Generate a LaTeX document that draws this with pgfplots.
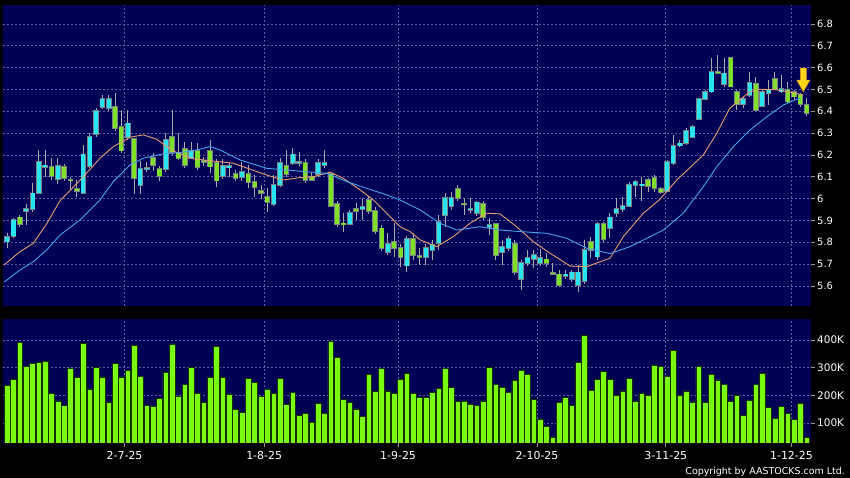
\documentclass[border=0pt]{standalone}
\usepackage{pgfplots}
\pgfplotsset{compat=1.18}
\usepackage{pgfplotstable}
\usepackage{fontspec}
\setmainfont{DejaVu Sans}
\definecolor{navybg}{RGB}{0,0,85}
\definecolor{gridc}{RGB}{95,95,165}
\definecolor{upc}{RGB}{40,228,240}
\definecolor{dnc}{RGB}{126,224,40}
\definecolor{edgec}{RGB}{125,130,130}
\definecolor{wickc}{RGB}{170,170,170}
\definecolor{volc}{RGB}{122,250,16}
\definecolor{voledge}{RGB}{20,50,0}
\definecolor{maone}{RGB}{232,160,112}
\definecolor{matwo}{RGB}{70,165,235}
\definecolor{arrowc}{RGB}{255,214,30}
\definecolor{arrowe}{RGB}{230,150,20}
\definecolor{tickc}{RGB}{150,150,150}

\pgfdeclareplotmark{dnarrow}{%
  \pgfpathmoveto{\pgfpoint{0bp}{0bp}}%
  \pgfpathlineto{\pgfpoint{6.5bp}{11.5bp}}%
  \pgfpathlineto{\pgfpoint{3bp}{11.5bp}}%
  \pgfpathlineto{\pgfpoint{3bp}{23.5bp}}%
  \pgfpathlineto{\pgfpoint{-3bp}{23.5bp}}%
  \pgfpathlineto{\pgfpoint{-3bp}{11.5bp}}%
  \pgfpathlineto{\pgfpoint{-6.5bp}{11.5bp}}%
  \pgfpathclose
  \pgfusepathqfillstroke}

\pgfplotstableread{
k o h l c
1 5.803 5.841 5.773 5.826
2 5.830 5.910 5.821 5.902
3 5.914 5.925 5.870 5.882
4 5.943 5.974 5.879 5.953
5 5.953 6.070 5.940 6.024
6 6.024 6.223 6.020 6.169
7 6.144 6.223 6.100 6.152
8 6.144 6.185 6.085 6.104
9 6.089 6.185 6.068 6.150
10 6.144 6.160 6.080 6.093
11 6.087 6.100 6.040 6.084
12 6.045 6.085 6.009 6.036
13 6.024 6.246 6.020 6.203
14 6.150 6.299 6.140 6.281
15 6.296 6.414 6.284 6.403
16 6.421 6.475 6.410 6.455
17 6.414 6.475 6.400 6.455
18 6.421 6.482 6.310 6.322
19 6.330 6.406 6.208 6.220
20 6.281 6.406 6.269 6.345
21 6.272 6.280 6.020 6.093
22 6.063 6.170 6.020 6.135
23 6.137 6.170 6.120 6.140
24 6.185 6.208 6.126 6.154
25 6.135 6.150 6.080 6.104
26 6.135 6.300 6.120 6.269
27 6.281 6.406 6.200 6.215
28 6.211 6.299 6.177 6.185
29 6.227 6.260 6.140 6.154
30 6.185 6.260 6.180 6.220
31 6.220 6.253 6.130 6.144
32 6.172 6.190 6.150 6.170
33 6.220 6.269 6.119 6.147
34 6.162 6.180 6.055 6.083
35 6.102 6.180 6.090 6.150
36 6.144 6.169 6.100 6.150
37 6.112 6.131 6.080 6.093
38 6.097 6.169 6.080 6.121
39 6.112 6.154 6.047 6.075
40 6.075 6.108 6.009 6.052
41 6.035 6.062 6.000 6.027
42 6.009 6.047 5.940 5.983
43 5.974 6.108 5.965 6.063
44 6.063 6.185 6.055 6.162
45 6.151 6.223 6.100 6.112
46 6.162 6.231 6.154 6.203
47 6.162 6.215 6.150 6.169
48 6.162 6.180 6.070 6.085
49 6.100 6.120 6.080 6.085
50 6.112 6.180 6.100 6.162
51 6.154 6.223 6.139 6.162
52 6.112 6.120 5.960 5.966
53 5.974 5.990 5.870 5.884
54 5.886 5.933 5.849 5.883
55 5.884 5.950 5.880 5.933
56 5.951 5.979 5.900 5.943
57 5.951 6.002 5.900 5.963
58 5.994 6.010 5.930 5.943
59 5.943 5.960 5.840 5.852
60 5.864 5.880 5.760 5.775
61 5.754 5.841 5.740 5.791
62 5.803 5.887 5.734 5.773
63 5.773 5.790 5.689 5.731
64 5.693 5.830 5.665 5.814
65 5.815 5.841 5.720 5.742
66 5.739 5.773 5.696 5.731
67 5.731 5.790 5.696 5.773
68 5.765 5.811 5.719 5.788
69 5.795 5.925 5.765 5.892
70 5.925 6.027 5.871 6.002
71 5.966 6.032 5.950 6.002
72 6.043 6.062 5.990 6.002
73 5.976 6.002 5.925 5.974
74 5.950 6.002 5.935 5.952
75 5.933 5.990 5.920 5.983
76 5.975 5.990 5.900 5.914
77 5.871 5.910 5.833 5.879
78 5.884 5.890 5.719 5.742
79 5.754 5.811 5.696 5.780
80 5.773 5.830 5.760 5.814
81 5.791 5.811 5.650 5.665
82 5.630 5.719 5.581 5.704
83 5.704 5.765 5.690 5.730
84 5.723 5.765 5.681 5.742
85 5.704 5.770 5.690 5.730
86 5.722 5.750 5.688 5.704
87 5.659 5.704 5.650 5.657
88 5.653 5.673 5.597 5.604
89 5.646 5.673 5.630 5.653
90 5.632 5.673 5.620 5.662
91 5.604 5.696 5.574 5.662
92 5.624 5.811 5.610 5.765
93 5.803 5.826 5.730 5.765
94 5.734 5.894 5.720 5.883
95 5.883 5.894 5.800 5.815
96 5.864 5.933 5.818 5.914
97 5.933 6.001 5.917 5.952
98 5.951 6.009 5.940 5.966
99 5.966 6.078 5.963 6.062
100 6.063 6.085 6.009 6.075
101 6.060 6.100 5.990 6.065
102 6.085 6.093 6.032 6.059
103 6.093 6.108 6.032 6.047
104 6.044 6.055 6.020 6.029
105 6.035 6.177 6.030 6.169
106 6.162 6.292 6.154 6.243
107 6.243 6.269 6.238 6.253
108 6.253 6.322 6.246 6.311
109 6.281 6.337 6.276 6.330
110 6.363 6.459 6.360 6.455
111 6.455 6.498 6.452 6.490
112 6.490 6.643 6.485 6.582
113 6.582 6.658 6.570 6.576
114 6.524 6.643 6.513 6.574
115 6.643 6.645 6.510 6.513
116 6.490 6.498 6.406 6.433
117 6.433 6.467 6.414 6.455
118 6.475 6.582 6.467 6.531
119 6.524 6.559 6.400 6.406
120 6.424 6.498 6.420 6.490
121 6.485 6.544 6.429 6.498
122 6.548 6.582 6.498 6.501
123 6.490 6.566 6.482 6.501
124 6.498 6.536 6.437 6.444
125 6.490 6.498 6.450 6.467
126 6.475 6.482 6.421 6.433
127 6.429 6.459 6.379 6.391
}\candles

\pgfplotstableread{
k v
1 237
2 258
3 390
4 304
5 316
6 319
7 323
8 207
9 180
10 165
11 299
12 264
13 388
14 223
15 300
16 267
17 174
18 316
19 267
20 290
21 381
22 268
23 165
24 162
25 188
26 283
27 386
28 198
29 241
30 302
31 207
32 174
33 266
34 376
35 265
36 205
37 150
38 139
39 262
40 246
41 197
42 223
43 206
44 262
45 166
46 212
47 129
48 135
49 104
50 171
51 135
52 394
53 336
54 186
55 175
56 151
57 124
58 276
59 213
60 298
61 216
62 207
63 259
64 278
65 206
66 194
67 194
68 212
69 225
70 298
71 228
72 179
73 180
74 169
75 164
76 180
77 301
78 240
79 230
80 211
81 254
82 292
83 275
84 186
85 115
86 87
87 50
88 175
89 192
90 164
91 318
92 418
93 217
94 257
95 288
96 258
97 201
98 216
99 262
100 179
101 207
102 201
103 310
104 306
105 270
106 363
107 199
108 216
109 176
110 306
111 175
112 276
113 256
114 239
115 177
116 201
117 127
118 182
119 240
120 280
121 157
122 116
123 159
124 134
125 113
126 171
127 47
}\volume

\pgfplotstableread{
x y
0.50 5.696
3.02 5.757
5.11 5.795
7.23 5.885
9.32 5.990
12.99 6.100
15.63 6.185
17.72 6.238
20.35 6.281
22.45 6.292
24.56 6.272
26.14 6.238
27.71 6.211
30.33 6.182
32.96 6.174
36.63 6.162
41.90 6.108
44.52 6.085
47.15 6.096
49.24 6.100
51.87 6.121
53.97 6.093
56.60 6.040
58.70 5.994
60.81 5.933
62.91 5.871
64.49 5.849
66.06 5.811
68.69 5.780
71.31 5.826
73.93 5.887
76.57 5.933
78.66 5.930
81.29 5.871
83.91 5.803
86.55 5.750
89.70 5.691
92.33 5.688
96.00 5.727
98.10 5.826
101.25 5.933
103.88 5.997
106.52 6.085
110.71 6.200
112.82 6.299
114.88 6.414
116.45 6.452
118.07 6.490
119.65 6.501
122.28 6.498
124.90 6.485
126.48 6.475
}\maten

\pgfplotstableread{
x y
0.50 5.617
3.02 5.673
5.11 5.711
7.23 5.765
9.32 5.833
12.47 5.902
15.63 5.994
17.72 6.078
20.35 6.154
22.45 6.185
25.60 6.205
28.23 6.211
30.87 6.223
32.96 6.238
34.54 6.223
37.69 6.177
41.90 6.139
45.05 6.131
48.20 6.123
51.36 6.116
54.51 6.078
57.66 6.047
60.81 6.017
62.91 5.994
66.06 5.948
69.21 5.887
71.84 5.856
75.51 5.871
78.66 5.856
81.82 5.849
86.02 5.841
89.18 5.818
92.33 5.773
96.00 5.748
99.15 5.780
104.40 5.856
107.55 5.933
110.71 6.055
112.82 6.146
115.44 6.238
118.07 6.314
120.70 6.375
123.33 6.429
125.43 6.455
125.95 6.460
}\matwenty

\begin{document}
\begin{tikzpicture}
\fill[black] (0,0) rectangle (850bp,478bp);

\begin{axis}[
  at={(3bp,172bp)}, anchor=south west,
  scale only axis, width=808bp, height=301bp,
  xmin=0.34, xmax=127.68, ymin=5.508, ymax=6.887,
  axis background/.style={fill=navybg},
  axis line style={draw=none},
  xtick={19.5,41.5,62.6,84.5,104.8,124.6}, xticklabels={},
  xtick style={draw=none},
  ytick={5.6,5.7,5.8,5.9,6.0,6.1,6.2,6.3,6.4,6.5,6.6,6.7,6.8},
  yticklabels={5.6,5.7,5.8,5.9,6,6.1,6.2,6.3,6.4,6.5,6.6,6.7,6.8},
  ytick pos=right, yticklabel pos=right,
  tick align=outside, major tick length=4bp,
  ytick style={draw=tickc, line width=0.8bp},
  yticklabel style={font=\fontsize{10}{12}\selectfont, text=white, anchor=west, inner sep=0pt, xshift=2bp},
  grid=major,
  major grid style={draw=gridc, dash pattern=on 2bp off 2bp, line width=0.7bp},
]
% wicks
\addplot[draw=none, no markers, forget plot,
  error bars/.cd, y dir=both, y explicit,
  error mark=none, error bar style={draw=wickc, line width=1bp}]
  table[x=k, y expr={(\thisrow{h}+\thisrow{l})/2}, y error expr={(\thisrow{h}-\thisrow{l})/2}] {\candles};
% up bodies
\addplot[draw=none, no markers, forget plot, restrict y to domain=5:7,
  error bars/.cd, y dir=both, y explicit,
  error mark=none, error bar style={draw=edgec, line width=5.6bp}]
  table[x=k, y expr={(\thisrow{o}+\thisrow{c})/2 + 100*(\thisrow{c}<\thisrow{o})},
        y error expr={max(abs(\thisrow{c}-\thisrow{o})/2,0.002)+0.0037}] {\candles};
\addplot[draw=none, no markers, forget plot, restrict y to domain=5:7,
  error bars/.cd, y dir=both, y explicit,
  error mark=none, error bar style={draw=upc, line width=4.1bp}]
  table[x=k, y expr={(\thisrow{o}+\thisrow{c})/2 + 100*(\thisrow{c}<\thisrow{o})},
        y error expr={max(abs(\thisrow{c}-\thisrow{o})/2,0.002)}] {\candles};
% down bodies
\addplot[draw=none, no markers, forget plot, restrict y to domain=5:7,
  error bars/.cd, y dir=both, y explicit,
  error mark=none, error bar style={draw=edgec, line width=5.6bp}]
  table[x=k, y expr={(\thisrow{o}+\thisrow{c})/2 + 100*(\thisrow{c}>=\thisrow{o})},
        y error expr={max(abs(\thisrow{c}-\thisrow{o})/2,0.002)+0.0037}] {\candles};
\addplot[draw=none, no markers, forget plot, restrict y to domain=5:7,
  error bars/.cd, y dir=both, y explicit,
  error mark=none, error bar style={draw=dnc, line width=4.1bp}]
  table[x=k, y expr={(\thisrow{o}+\thisrow{c})/2 + 100*(\thisrow{c}>=\thisrow{o})},
        y error expr={max(abs(\thisrow{c}-\thisrow{o})/2,0.002)}] {\candles};
% moving averages
\addplot[no marks, draw=maone, line width=0.9bp, line join=round] table[x=x,y=y] {\maten};
\addplot[no marks, draw=matwo, line width=0.9bp, line join=round] table[x=x,y=y] {\matwenty};
% arrow marker
\addplot[only marks, mark=dnarrow, mark options={fill=arrowc, draw=arrowe, line width=0.6bp}]
  coordinates {(126.47,6.490)};
\end{axis}

\begin{axis}[
  at={(3bp,35bp)}, anchor=south west,
  scale only axis, width=808bp, height=124bp,
  xmin=0.34, xmax=127.68, ymin=27.8, ymax=476,
  axis background/.style={fill=navybg},
  axis line style={draw=none},
  xtick={19.5,41.5,62.6,84.5,104.8,124.6},
  xticklabels={2-7-25,1-8-25,1-9-25,2-10-25,3-11-25,1-12-25},
  xtick pos=bottom, xticklabel pos=bottom,
  ytick={100,200,300,400},
  yticklabels={100K,200K,300K,400K},
  ytick pos=right, yticklabel pos=right,
  tick align=outside, major tick length=4bp,
  tick style={draw=tickc, line width=0.8bp},
  yticklabel style={font=\fontsize{10.5}{12}\selectfont, text=white, anchor=west, inner sep=0pt, xshift=2bp},
  xticklabel style={font=\fontsize{11}{13}\selectfont, text=white, anchor=north, inner sep=0pt, yshift=-4bp},
  grid=major,
  major grid style={draw=gridc, dash pattern=on 2bp off 2bp, line width=0.7bp},
]
\addplot[ybar, bar width=0.9, fill=volc, draw=voledge, line width=0.6bp] table[x=k,y=v] {\volume};
\end{axis}

\node[anchor=base east, text=white, inner sep=0pt, font=\fontsize{9.5}{11}\selectfont] at (845bp,3.5bp) {Copyright by AASTOCKS.com Ltd.};
\pgfresetboundingbox
\path[use as bounding box] (0,0) rectangle (850bp,478bp);
\end{tikzpicture}
\end{document}
